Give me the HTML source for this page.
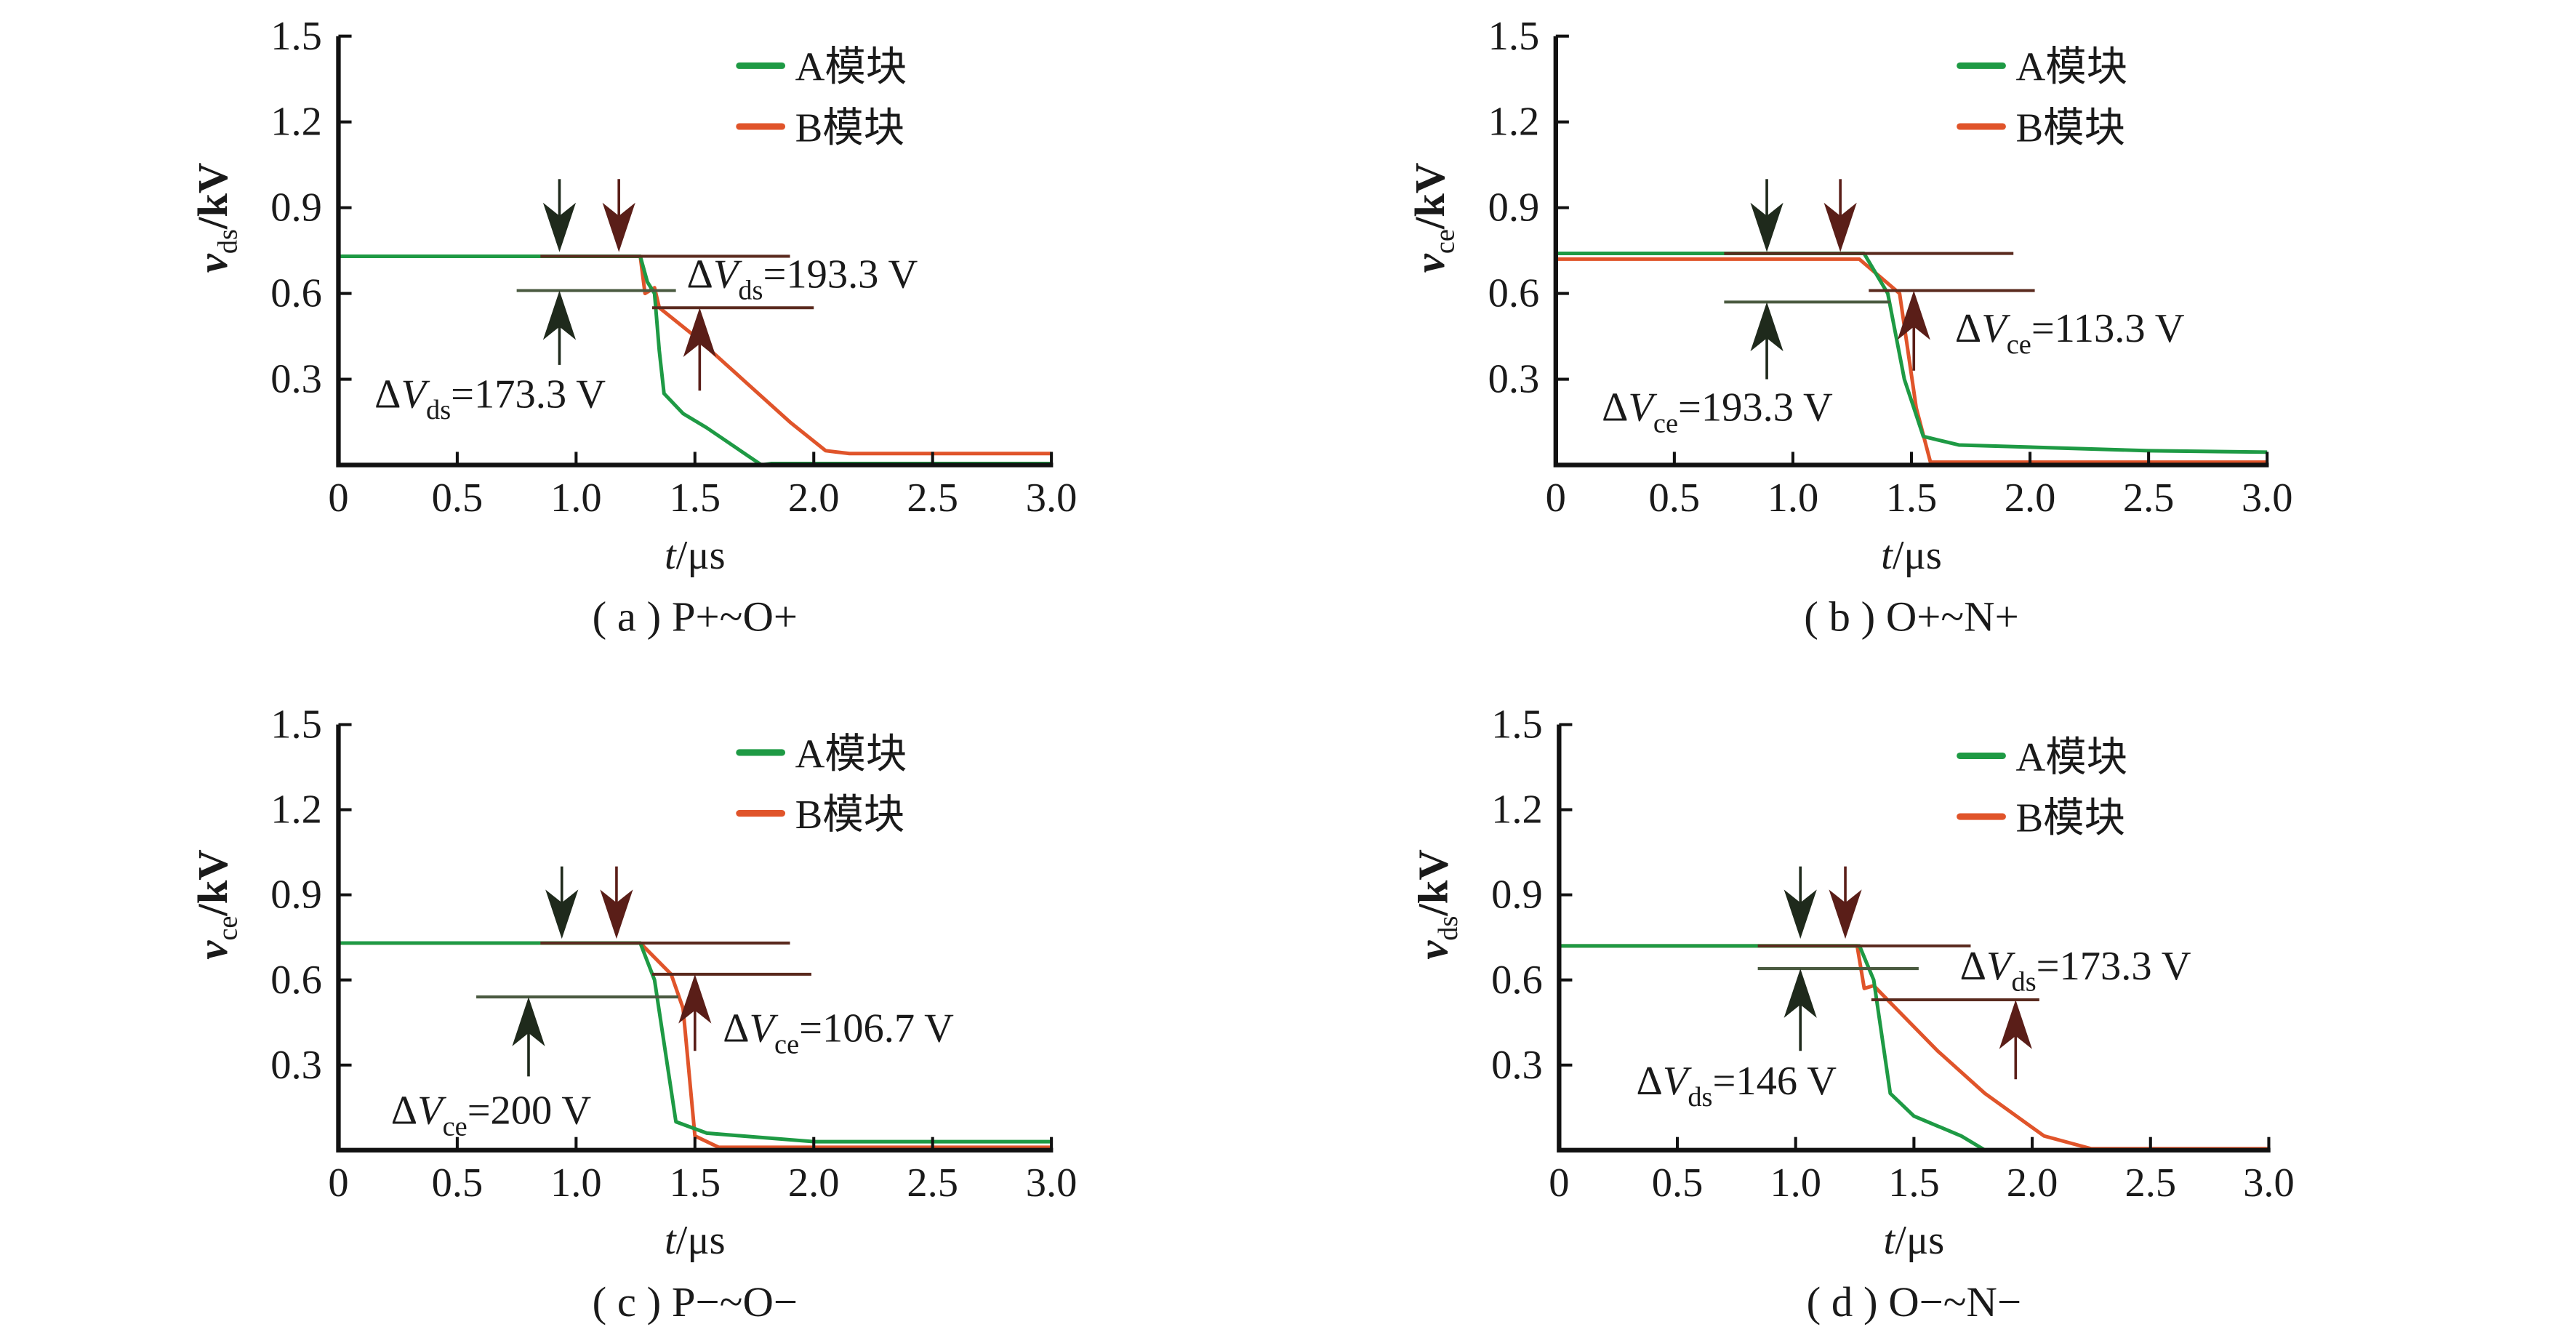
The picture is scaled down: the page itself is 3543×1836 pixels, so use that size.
<!DOCTYPE html>
<html><head><meta charset="utf-8">
<style>
html,body{margin:0;padding:0;background:#fff;}
svg{display:block;}
text{font-family:"Liberation Serif","Noto Serif CJK SC",serif;fill:#1a1a1a;}
.cj{font-family:"Liberation Serif","Noto Sans CJK SC",sans-serif;}
</style></head>
<body>
<svg id="fig" width="3543" height="1836" viewBox="0 0 1568 812.5" preserveAspectRatio="none" xmlns="http://www.w3.org/2000/svg"></svg>
<script>
// ---- data ----
const xTicks = [0,0.5,1.0,1.5,2.0,2.5,3.0];
const xTickLabels = ["0","0.5","1.0","1.5","2.0","2.5","3.0"];
const yTicks = [0.3,0.6,0.9,1.2,1.5];
const yTickLabels = ["0.3","0.6","0.9","1.2","1.5"];
const seriesNames = ["A模块","B模块"];

const aT_A = [0,1.27,1.30,1.33,1.35,1.37,1.45,1.55,1.78,1.82,3.0];
const aV_A = [0.73,0.73,0.64,0.60,0.40,0.25,0.18,0.13,0.0,0.005,0.005];
const aT_B = [0,1.27,1.29,1.33,1.35,1.5,1.7,1.9,2.05,2.15,3.0];
const aV_B = [0.73,0.73,0.60,0.62,0.55,0.45,0.30,0.15,0.05,0.04,0.04];

const bT_A = [0,1.30,1.40,1.47,1.55,1.7,2.5,3.0];
const bV_A = [0.74,0.74,0.60,0.30,0.10,0.07,0.05,0.045];
const bT_B = [0,1.28,1.45,1.52,1.58,1.65,3.0];
const bV_B = [0.72,0.72,0.60,0.20,0.01,0.01,0.01];

const cT_A = [0,1.27,1.33,1.42,1.55,2.0,3.0];
const cV_A = [0.73,0.73,0.60,0.10,0.06,0.03,0.03];
const cT_B = [0,1.27,1.40,1.45,1.50,1.60,3.0];
const cV_B = [0.73,0.73,0.62,0.50,0.05,0.01,0.01];

const dT_A = [0,1.27,1.33,1.40,1.50,1.70,1.80,3.0];
const dV_A = [0.72,0.72,0.60,0.20,0.12,0.05,0.0,0.0];
const dT_B = [0,1.26,1.29,1.33,1.40,1.60,1.80,2.05,2.25,3.0];
const dV_B = [0.72,0.72,0.57,0.58,0.52,0.35,0.20,0.05,0.005,0.005];

const panels = [
 {id:"a",left:206,right:640,top:22,bottom:283,ylab:"ds",cap:"( a ) P+~O+",
  tA:aT_A,vA:aV_A,tB:aT_B,vB:aV_B,
  hl:[[0.85,1.9,0.73,"#5a2a1e"],[0.75,1.42,0.61,"#4a5a40"],[1.32,2.0,0.55,"#5a2a1e"]],
  down:[[0.93,"#1f2a1c"],[1.18,"#5a1e18"]],
  up:[[0.93,0.61,0.35,"#1f2a1c"],[1.52,0.55,0.26,"#5a1e18"]],
  lab:[[418,175,"193.3 V"],[228,248,"173.3 V"]],legX:450,legY:40},
 {id:"b",left:947,right:1380,top:22,bottom:283,ylab:"ce",cap:"( b ) O+~N+",
  tA:bT_A,vA:bV_A,tB:bT_B,vB:bV_B,
  hl:[[0.71,1.93,0.74,"#5a2a1e"],[0.71,1.41,0.57,"#4a5a40"],[1.32,2.02,0.61,"#5a2a1e"]],
  down:[[0.89,"#1f2a1c"],[1.20,"#5a1e18"]],
  up:[[0.89,0.57,0.30,"#1f2a1c"],[1.51,0.61,0.33,"#5a1e18"]],
  lab:[[1190,208,"113.3 V"],[975,256,"193.3 V"]],legX:1193,legY:40},
 {id:"c",left:206,right:640,top:441,bottom:700,ylab:"ce",cap:"( c ) P−~O−",
  tA:cT_A,vA:cV_A,tB:cT_B,vB:cV_B,
  hl:[[0.85,1.9,0.73,"#5a2a1e"],[0.58,1.43,0.54,"#4a5a40"],[1.32,1.99,0.62,"#5a2a1e"]],
  down:[[0.94,"#1f2a1c"],[1.17,"#5a1e18"]],
  up:[[0.80,0.54,0.26,"#1f2a1c"],[1.50,0.62,0.35,"#5a1e18"]],
  lab:[[440,634,"106.7 V"],[238,684,"200 V"]],legX:450,legY:458},
 {id:"d",left:949,right:1381,top:441,bottom:700,ylab:"ds",cap:"( d ) O−~N−",
  tA:dT_A,vA:dV_A,tB:dT_B,vB:dV_B,
  hl:[[0.84,1.74,0.72,"#5a2a1e"],[0.84,1.52,0.64,"#4a5a40"],[1.32,2.03,0.53,"#5a2a1e"]],
  down:[[1.02,"#1f2a1c"],[1.21,"#5a1e18"]],
  up:[[1.02,0.64,0.35,"#1f2a1c"],[1.93,0.53,0.25,"#5a1e18"]],
  lab:[[1193,596,"173.3 V"],[996,666,"146 V"]],legX:1193,legY:460}
];

const NS="http://www.w3.org/2000/svg";
const svg=document.getElementById("fig");
function mk(tag,attrs,parent){const e=document.createElementNS(NS,tag);for(const k in attrs)e.setAttribute(k,attrs[k]);(parent||svg).appendChild(e);return e;}

panels.forEach(p=>{
  const g=mk("g",{});
  
  
  const X=t=>p.left+(t/3)*(p.right-p.left);
  const Y=v=>p.bottom-(v/1.5)*(p.bottom-p.top);
  const mkLine=(ts,vs,col,name)=>{
    const d=ts.map((t,i)=>(i?"L":"M")+X(t).toFixed(2)+","+Y(vs[i]).toFixed(2)).join(" ");
    const pa=mk("path",{d:d,fill:"none",stroke:col,"stroke-width":2.2,"stroke-linejoin":"round"},g);
    
    
  };
  mkLine(p.tB,p.vB,"#e0542a","series-b-"+p.id);
  mkLine(p.tA,p.vA,"#1e9a44","series-a-"+p.id);
  const ax=mk("path",{d:`M${p.left},${Y(1.5)} L${p.left},${p.bottom} L${p.right+1},${p.bottom}`,fill:"none",stroke:"#111","stroke-width":2.8},g);
  
  
  xTicks.forEach((t,i)=>{
    if(t>0) mk("line",{x1:X(t),x2:X(t),y1:p.bottom,y2:p.bottom-8,stroke:"#111","stroke-width":1.8},g);
    const tx=mk("text",{x:X(t),y:p.bottom+28,"text-anchor":"middle","font-size":25},g);
    tx.textContent=xTickLabels[i];
    
    
  });
  yTicks.forEach((v,i)=>{
    mk("line",{x1:p.left,x2:p.left+8,y1:Y(v),y2:Y(v),stroke:"#111","stroke-width":1.8},g);
    const tx=mk("text",{x:p.left-10,y:Y(v)+8,"text-anchor":"end","font-size":25},g);
    tx.textContent=yTickLabels[i];
    
    
  });
  p.hl.forEach(h=>{
    const l=mk("line",{x1:X(h[0]),x2:X(h[1]),y1:Y(h[2]),y2:Y(h[2]),stroke:h[3],"stroke-width":1.8},g);
    
    
  });
  p.down.forEach(a=>{
    const x=X(a[0]),yb=Y(0.745),yt=Y(1.0);
    const gg=mk("g",{},g);
    
    
    mk("line",{x1:x,x2:x,y1:yt,y2:yb-20,stroke:a[1],"stroke-width":1.6},gg);
    mk("path",{d:`M${x-10},${yb-30} L${x},${yb-22} L${x+10},${yb-30} L${x},${yb} Z`,fill:a[1]},gg);
  });
  p.up.forEach(a=>{
    const x=X(a[0]),yt=Y(a[1]),yb=Y(a[2]);
    const gg=mk("g",{},g);
    
    
    mk("line",{x1:x,x2:x,y1:yt+20,y2:yb,stroke:a[3],"stroke-width":1.6},gg);
    mk("path",{d:`M${x-10},${yt+30} L${x},${yt+22} L${x+10},${yt+30} L${x},${yt} Z`,fill:a[3]},gg);
  });
  p.lab.forEach(L=>{
    const tx=mk("text",{x:L[0],y:L[1],"font-size":25},g);
    tx.innerHTML=`Δ<tspan font-style="italic">V</tspan><tspan font-size="17" dy="7">${p.ylab}</tspan><tspan dy="-7">=${L[2]}</tspan>`;
    
    
  });
  [["#1e9a44",0],["#e0542a",1]].forEach(([c,i])=>{
    const y=p.legY+i*37;
    const le=mk("g",{},g);
    
    
    mk("line",{x1:p.legX,x2:p.legX+26,y1:y,y2:y,stroke:c,"stroke-width":4,"stroke-linecap":"round"},le);
    const tx=mk("text",{x:p.legX+34,y:y+9,"font-size":25,class:"cj"},le);
    tx.textContent=seriesNames[i];
  });
  const cy=(p.top+p.bottom)/2+10;
  const yt=mk("text",{x:0,y:0,"font-size":26,"text-anchor":"middle",transform:`translate(${p.left-68},${cy-30}) rotate(-90)`},g);
  yt.innerHTML=`<tspan font-style="italic" font-weight="bold">v</tspan><tspan font-size="17" dy="6">${p.ylab}</tspan><tspan dy="-6" font-weight="bold">/kV</tspan>`;
  
  
  const xc=(p.left+p.right)/2;
  const xt=mk("text",{x:xc,y:p.bottom+63,"font-size":25,"text-anchor":"middle"},g);
  xt.innerHTML=`<tspan font-style="italic">t</tspan>/μs`;
  
  
  const cp=mk("text",{x:xc,y:p.bottom+101,"font-size":26,"text-anchor":"middle"},g);
  cp.textContent=p.cap;
  
  
});
</script>
</body></html>
